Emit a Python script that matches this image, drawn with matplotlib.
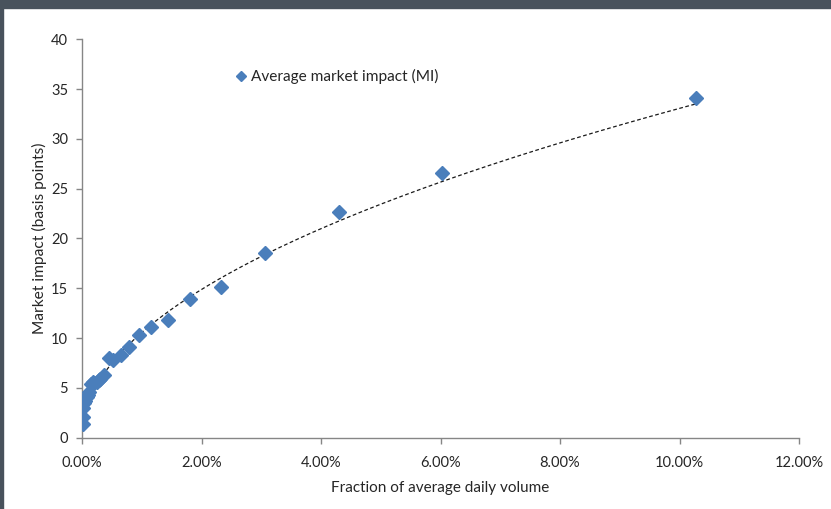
import numpy as np
import matplotlib
matplotlib.use("Agg")
import matplotlib.pyplot as plt
from matplotlib.ticker import FuncFormatter
from matplotlib.patches import Rectangle

# Fraction of average daily volume (%) and average market impact (bps)
adv_fraction = [0.02, 0.02, 0.01, 0.03, 0.05, 0.08, 0.10, 0.12, 0.15, 0.18,
                0.20, 0.25, 0.28, 0.30, 0.37, 0.46, 0.52, 0.66, 0.79, 0.95,
                1.15, 1.44, 1.81, 2.32, 3.07, 4.30, 6.03, 10.28]
market_impact = [1.4, 2.1, 3.0, 3.5, 3.7, 4.1, 4.3, 4.6, 5.4, 5.6,
                 5.5, 5.6, 5.8, 5.9, 6.3, 8.0, 7.8, 8.3, 9.1, 10.3,
                 11.1, 11.8, 13.9, 15.1, 18.5, 22.7, 26.6, 34.1]
x_ticks = [0, 2, 4, 6, 8, 10, 12]
y_ticks = [0, 5, 10, 15, 20, 25, 30, 35, 40]
series_label = "Average market impact (MI)"

plt.rcParams['font.family'] = ['Lato', 'DejaVu Sans']
text_color = '#262626'
axis_color = '#868686'
marker_color = '#4a7ebb'

fig = plt.figure(figsize=(8.31, 5.09), dpi=100)
fig.patch.set_facecolor('white')
# frame strip along the top and left edge
fig.add_artist(Rectangle((0, 1 - 7.5 / 509), 1, 7.5 / 509, transform=fig.transFigure,
                         color='#48525c', zorder=0))
fig.add_artist(Rectangle((0, 0), 2.7 / 831, 1, transform=fig.transFigure,
                         color='#48525c', zorder=0))

ax = fig.add_axes([82 / 831, (509 - 437.5) / 509, (799 - 82) / 831, (437.5 - 39.5) / 509])

x = np.array(adv_fraction)
y = np.array(market_impact)

# power-law trend line, fitted in log space over the body of the curve
body = x >= 0.3
b, log_a = np.polyfit(np.log(x[body]), np.log(y[body]), 1)
xf = np.linspace(x.min(), x.max(), 400)
ax.plot(xf, np.exp(log_a) * xf ** b, linestyle=(0, (3, 2)), color='#1a1a1a', lw=0.9, zorder=2)

ax.plot(x, y, linestyle='none', marker='D', markersize=7, color=marker_color,
        markeredgecolor=marker_color, zorder=3, label=series_label)

ax.set_xlim(0, 12)
ax.set_ylim(0, 40)
ax.set_xticks(x_ticks)
ax.set_yticks(y_ticks)
ax.xaxis.set_major_formatter(FuncFormatter(lambda v, p: f"{v:.2f}%"))

for s in ['top', 'right']:
    ax.spines[s].set_visible(False)
for s in ['left', 'bottom']:
    ax.spines[s].set_color(axis_color)
    ax.spines[s].set_linewidth(1.0)
ax.tick_params(axis='both', direction='out', length=4, width=1.0, color=axis_color,
               labelsize=10.5, labelcolor=text_color)
ax.tick_params(axis='x', pad=9)
ax.tick_params(axis='y', pad=6)

ax.set_xlabel("Fraction of average daily volume", fontsize=11, color=text_color, labelpad=8)
ax.set_ylabel("Market impact (basis points)", fontsize=11.2, color=text_color, labelpad=3)

ax.legend(loc='upper left', bbox_to_anchor=(0.19, 0.96), frameon=False, fontsize=11.1,
          handletextpad=0.0, handlelength=1.2, markerscale=0.8, labelcolor=text_color)

fig.savefig("out.png", dpi=100, facecolor='white')
